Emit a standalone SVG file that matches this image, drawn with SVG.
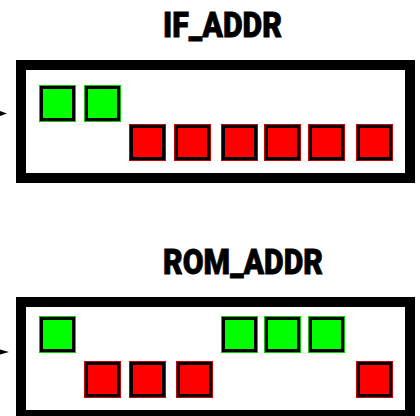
<svg xmlns="http://www.w3.org/2000/svg" width="420" height="416" viewBox="0 0 420 416">
<style>
.box{fill:#fff;stroke:#000;stroke-width:10}
.title{font-family:Roboto,"Liberation Sans",sans-serif;font-weight:900;font-size:35px;fill:#000;stroke:#000;stroke-width:0.8;text-anchor:middle}
.g{fill:#00ff00;stroke:#00cc00}
.r{fill:#ff0000;stroke:#cc0000}
.o{stroke-width:1}
.i{fill:none;stroke:#000;stroke-width:3}
.arrow{fill:#000}
</style>
<defs>
<g id="sq"><rect class="o" x="0.5" y="0.5" width="36" height="36"/><rect class="i" x="2.5" y="2.5" width="32" height="32"/></g>
</defs>
<g id="if_addr">
<text class="title" x="222.5" y="37" textLength="119" lengthAdjust="spacingAndGlyphs">IF_ADDR</text>
<rect class="box" x="21" y="65" width="389" height="113"/>
<g class="g"><use href="#sq" x="39" y="85"/><use href="#sq" x="84" y="85"/></g>
<g class="r"><use href="#sq" x="129" y="124"/><use href="#sq" x="174" y="124"/><use href="#sq" x="221" y="124"/><use href="#sq" x="264" y="124"/><use href="#sq" x="308" y="124"/><use href="#sq" x="356" y="124"/></g>
</g>
<g id="rom_addr">
<text class="title" x="243" y="274" textLength="160" lengthAdjust="spacingAndGlyphs">ROM_ADDR</text>
<rect class="box" x="21" y="302" width="389" height="113"/>
<g class="g"><use href="#sq" x="39" y="316"/><use href="#sq" x="221" y="316"/><use href="#sq" x="264" y="316"/><use href="#sq" x="308" y="316"/></g>
<g class="r"><use href="#sq" x="84" y="361"/><use href="#sq" x="129" y="361"/><use href="#sq" x="176" y="361"/><use href="#sq" x="356" y="361"/></g>
</g>
<g id="connectors">
<path class="arrow" d="M0,111 L7,113.5 L0,116 Z"/>
<path class="arrow" d="M0,349.5 L9,352 L0,354.5 Z"/>
</g>
</svg>
